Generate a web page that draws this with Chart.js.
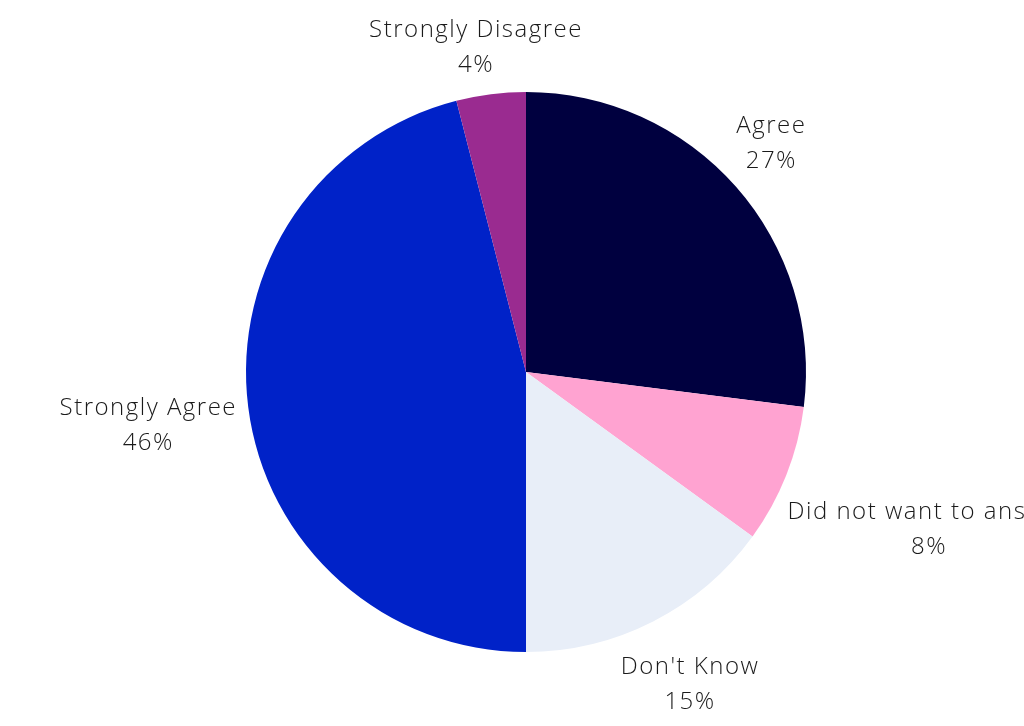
<!DOCTYPE html>
<html lang="en">
<head>
  <meta charset="UTF-8">
  <title>Survey responses</title>
  <script src="https://cdn.jsdelivr.net/npm/chart.js"></script>
  <style>
    html, body { margin: 0; padding: 0; background: #ffffff; }
    #wrap { width: 1024px; height: 726px; }
  </style>
</head>
<body>
<div id="wrap"><canvas id="myChart" width="1024" height="726"></canvas></div>

<script>
  // data
  const categories = ['Agree', 'Did not want to answer', "Don't Know", 'Strongly Agree', 'Strongly Disagree'];
  const shares = [27, 8, 15, 46, 4];
  const sliceColors = ['#00003f', '#ffa3d1', '#e8eef8', '#0022c8', '#9a2b90'];

  // draws "name / xx%" outside each slice, pushed out by the label box
  const outsideLabels = {
    id: 'outsideLabels',
    afterDraw(chart) {
      const ctx = chart.ctx;
      const meta = chart.getDatasetMeta(0);
      const lineH = 35;
      ctx.save();
      ctx.font = '300 24px "Open Sans", sans-serif';
      ctx.letterSpacing = '1.5px';
      ctx.fillStyle = '#1a1a1a';
      ctx.textAlign = 'center';
      ctx.textBaseline = 'middle';
      meta.data.forEach((arc, i) => {
        const p = arc.getProps(['x', 'y', 'startAngle', 'endAngle', 'outerRadius'], true);
        const mid = (p.startAngle + p.endAngle) / 2;
        const dx = Math.cos(mid), dy = Math.sin(mid);
        const lines = [categories[i], shares[i] + '%'];
        const w = Math.max(...lines.map(t => ctx.measureText(t).width));
        const h = lines.length * lineH;
        const r = p.outerRadius + 12;
        const k = Math.max(-1, Math.min(1, dy * 2.5));
        // labels under the pie sit a little lower
        const drop = dy > 0 ? Math.min(1, dy * 3) * lineH / 2 : 0;
        const cx = p.x + dx * r + dx * w / 2;
        const cy = p.y + dy * r + k * h / 2 + drop;
        lines.forEach((t, j) => {
          ctx.fillText(t, cx, cy - h / 2 + lineH / 2 + j * lineH);
        });
      });
      ctx.restore();
    }
  };

  const ctx = document.getElementById('myChart').getContext('2d');
  new Chart(ctx, {
    type: 'pie',
    data: {
      labels: categories,
      datasets: [{
        data: shares,
        backgroundColor: sliceColors,
        borderWidth: 0
      }]
    },
    options: {
      responsive: false,
      animation: false,
      layout: { padding: { left: 246, right: 218, top: 92, bottom: 74 } },
      plugins: {
        legend: { display: false },
        tooltip: { enabled: false }
      }
    },
    plugins: [outsideLabels]
  });
</script>
</body>
</html>
